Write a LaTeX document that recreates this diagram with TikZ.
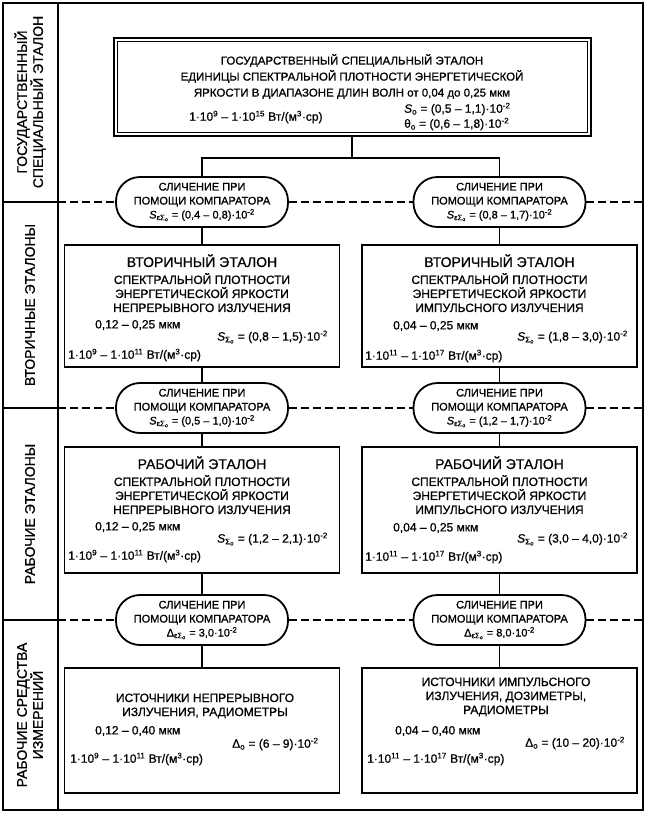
\documentclass[tikz,border=0pt]{standalone}
\usepackage{fontspec}
\setmainfont{Liberation Sans}[UprightFeatures={FakeBold=0.8}, ItalicFeatures={FakeBold=0.8}]
\usepackage{tikz}
\usetikzlibrary{positioning,calc}

\newcommand{\pten}[1]{10\textsuperscript{#1}}
\newcommand{\radunit}{Вт/(м\textsuperscript{3}·ср)}

\begin{document}
\begin{tikzpicture}[x=1pt, y=-1pt,
    every node/.style={font=\fontsize{12}{14}\selectfont, inner sep=0pt},
    frame/.style={line width=2pt},
    etalon/.style={draw, line width=1.8pt, minimum width=275pt, minimum height=122pt},
    topetalon/.style={draw, line width=2pt, minimum width=477pt, minimum height=98pt},
    compar/.style={draw, fill=white, line width=1.8pt, rounded corners=24pt, minimum width=172pt, minimum height=50pt, align=center, font=\fontsize{11}{14}\selectfont},
    link/.style={line width=1.8pt},
    divider/.style={line width=1.5pt, dash pattern=on 8pt off 4pt},
    rowlabel/.style={rotate=90, align=center, font=\fontsize{14}{16}\selectfont},
    title/.style={align=center},
    topfont/.style={font=\fontsize{11.5}{16}\selectfont},
]
\useasboundingbox (0,0) rectangle (646,815);

% frame and left column
\draw[frame] (3,3) rectangle (643,810);
\draw[frame] (58,3) -- (58,810);

\node[rowlabel] (lab1) at (30,102) {ГОСУДАРСТВЕННЫЙ\\СПЕЦИАЛЬНЫЙ ЭТАЛОН};
\node[rowlabel] (lab2) at (30,305) {ВТОРИЧНЫЕ ЭТАЛОНЫ};
\node[rowlabel] (lab3) at (30,514) {РАБОЧИЕ ЭТАЛОНЫ};
\node[rowlabel] (lab4) at (30,715) {РАБОЧИЕ СРЕДСТВА\\ИЗМЕРЕНИЙ};

% state standard
\node[topetalon] (gse) at (352,87) {};
\draw[line width=1pt] ($(gse.north west)+(4.5,4.5)$) rectangle ($(gse.south east)-(4.5,4.5)$);
\node[title, topfont, below=17pt of gse.north] (gsetext) {ГОСУДАРСТВЕННЫЙ СПЕЦИАЛЬНЫЙ ЭТАЛОН\\ЕДИНИЦЫ СПЕКТРАЛЬНОЙ ПЛОТНОСТИ ЭНЕРГЕТИЧЕСКОЙ\\ЯРКОСТИ В ДИАПАЗОНЕ ДЛИН ВОЛН от 0,04 до 0,25 мкм};
\node[anchor=west] (gsepow) at (189,117) {1·\pten{9} – 1·\pten{15} \radunit};
\node[anchor=west] (gses) at (404,109) {\textit{S}\textsubscript{o} = (0,5 – 1,1)·\pten{-2}};
\node[anchor=west] (gseth) at (404,124) {θ\textsubscript{o} = (0,6 – 1,8)·\pten{-2}};

% comparators
\node[compar] (cl1) at (202,202) {СЛИЧЕНИЕ ПРИ\\ПОМОЩИ КОМПАРАТОРА\\\textit{S}\textsubscript{εΣ\textsubscript{o}} = (0,4 – 0,8)·\pten{-2}};
\node[compar] (cr1) at (499.5,202) {СЛИЧЕНИЕ ПРИ\\ПОМОЩИ КОМПАРАТОРА\\\textit{S}\textsubscript{εΣ\textsubscript{o}} = (0,8 – 1,7)·\pten{-2}};
\node[compar] (cl2) at (202,408) {СЛИЧЕНИЕ ПРИ\\ПОМОЩИ КОМПАРАТОРА\\\textit{S}\textsubscript{εΣ\textsubscript{o}} = (0,5 – 1,0)·\pten{-2}};
\node[compar] (cr2) at (499.5,408) {СЛИЧЕНИЕ ПРИ\\ПОМОЩИ КОМПАРАТОРА\\\textit{S}\textsubscript{εΣ\textsubscript{o}} = (1,2 – 1,7)·\pten{-2}};
\node[compar] (cl3) at (202,620) {СЛИЧЕНИЕ ПРИ\\ПОМОЩИ КОМПАРАТОРА\\Δ\textsubscript{εΣ\textsubscript{o}} = 3,0·\pten{-2}};
\node[compar] (cr3) at (499.5,620) {СЛИЧЕНИЕ ПРИ\\ПОМОЩИ КОМПАРАТОРА\\Δ\textsubscript{εΣ\textsubscript{o}} = 8,0·\pten{-2}};

% secondary standards
\node[etalon] (vl) at (202,306) {};
\node[title, below=10pt of vl.north] (vltext) {{\fontsize{14}{16}\selectfont ВТОРИЧНЫЙ ЭТАЛОН}\\[3pt]СПЕКТРАЛЬНОЙ ПЛОТНОСТИ\\ЭНЕРГЕТИЧЕСКОЙ ЯРКОСТИ\\НЕПРЕРЫВНОГО ИЗЛУЧЕНИЯ};
\node[anchor=west] (vlrange) at (95,325) {0,12 – 0,25 мкм};
\node[anchor=west] (vlerr) at (217,337) {\textit{S}\textsubscript{Σ\textsubscript{o}} = (0,8 – 1,5)·\pten{-2}};
\node[anchor=west] (vlpow) at (68,355) {1·\pten{9} – 1·\pten{11} \radunit};

\node[etalon] (vr) at (499.5,306) {};
\node[title, below=10pt of vr.north] (vrtext) {{\fontsize{14}{16}\selectfont ВТОРИЧНЫЙ ЭТАЛОН}\\[3pt]СПЕКТРАЛЬНОЙ ПЛОТНОСТИ\\ЭНЕРГЕТИЧЕСКОЙ ЯРКОСТИ\\ИМПУЛЬСНОГО ИЗЛУЧЕНИЯ};
\node[anchor=west] (vrrange) at (393,326) {0,04 – 0,25 мкм};
\node[anchor=west] (vrerr) at (517,337) {\textit{S}\textsubscript{Σ\textsubscript{o}} = (1,8 – 3,0)·\pten{-2}};
\node[anchor=west] (vrpow) at (365,356) {1·\pten{11} – 1·\pten{17} \radunit};

% working standards
\node[etalon, minimum height=126pt] (wl) at (202,510) {};
\node[title, below=10pt of wl.north] (wltext) {{\fontsize{14}{16}\selectfont РАБОЧИЙ ЭТАЛОН}\\[3pt]СПЕКТРАЛЬНОЙ ПЛОТНОСТИ\\ЭНЕРГЕТИЧЕСКОЙ ЯРКОСТИ\\НЕПРЕРЫВНОГО ИЗЛУЧЕНИЯ};
\node[anchor=west] (wlrange) at (95,527) {0,12 – 0,25 мкм};
\node[anchor=west] (wlerr) at (217,539) {\textit{S}\textsubscript{Σ\textsubscript{o}} = (1,2 – 2,1)·\pten{-2}};
\node[anchor=west] (wlpow) at (68,556) {1·\pten{9} – 1·\pten{11} \radunit};

\node[etalon, minimum height=126pt] (wr) at (499.5,510) {};
\node[title, below=10pt of wr.north] (wrtext) {{\fontsize{14}{16}\selectfont РАБОЧИЙ ЭТАЛОН}\\[3pt]СПЕКТРАЛЬНОЙ ПЛОТНОСТИ\\ЭНЕРГЕТИЧЕСКОЙ ЯРКОСТИ\\ИМПУЛЬСНОГО ИЗЛУЧЕНИЯ};
\node[anchor=west] (wrrange) at (393,528) {0,04 – 0,25 мкм};
\node[anchor=west] (wrerr) at (517,539) {\textit{S}\textsubscript{Σ\textsubscript{o}} = (3,0 – 4,0)·\pten{-2}};
\node[anchor=west] (wrpow) at (365,557) {1·\pten{11} – 1·\pten{17} \radunit};

% working instruments
\node[etalon, minimum height=125pt] (tl) at (202,730.5) {};
\node[title] (tltext) at (205,706) {ИСТОЧНИКИ НЕПРЕРЫВНОГО\\ИЗЛУЧЕНИЯ, РАДИОМЕТРЫ};
\node[anchor=west] (tlrange) at (95,731) {0,12 – 0,40 мкм};
\node[anchor=west] (tlerr) at (232,744) {Δ\textsubscript{o} = (6 – 9)·\pten{-2}};
\node[anchor=west] (tlpow) at (70,759) {1·\pten{9} – 1·\pten{11} \radunit};

\node[etalon, minimum height=125pt] (tr) at (499.5,730.5) {};
\node[title] (trtext) at (506,697) {ИСТОЧНИКИ ИМПУЛЬСНОГО\\ИЗЛУЧЕНИЯ, ДОЗИМЕТРЫ,\\РАДИОМЕТРЫ};
\node[anchor=west] (trrange) at (395,731) {0,04 – 0,40 мкм};
\node[anchor=west] (trerr) at (525,743) {Δ\textsubscript{o} = (10 – 20)·\pten{-2}};
\node[anchor=west] (trpow) at (367,759) {1·\pten{11} – 1·\pten{17} \radunit};

% row dividers
\foreach \r/\y in {1/202, 2/408, 3/620} {
  \coordinate (lo\r) at (3,\y);
  \coordinate (lw\r) at (58,\y);
  \coordinate (le\r) at (643,\y);
  \draw[frame] (lo\r) -- (lw\r);
  \draw[divider] (lw\r) -- (cl\r.west) (cl\r.east) -- (cr\r.west) (cr\r.east) -- (le\r);
}

% connectors
\coordinate (fork) at (352,158);
\draw[link] (gse.south) -- (fork);
\draw[link] (cl1.north) |- (fork) -| (cr1.north);
\foreach \side in {l,r} {
  \draw[link] (c\side1) -- (v\side);
  \draw[link] (v\side) -- (c\side2);
  \draw[link] (c\side2) -- (w\side);
  \draw[link] (w\side) -- (c\side3);
  \draw[link] (c\side3) -- (t\side);
}

\end{tikzpicture}
\end{document}
